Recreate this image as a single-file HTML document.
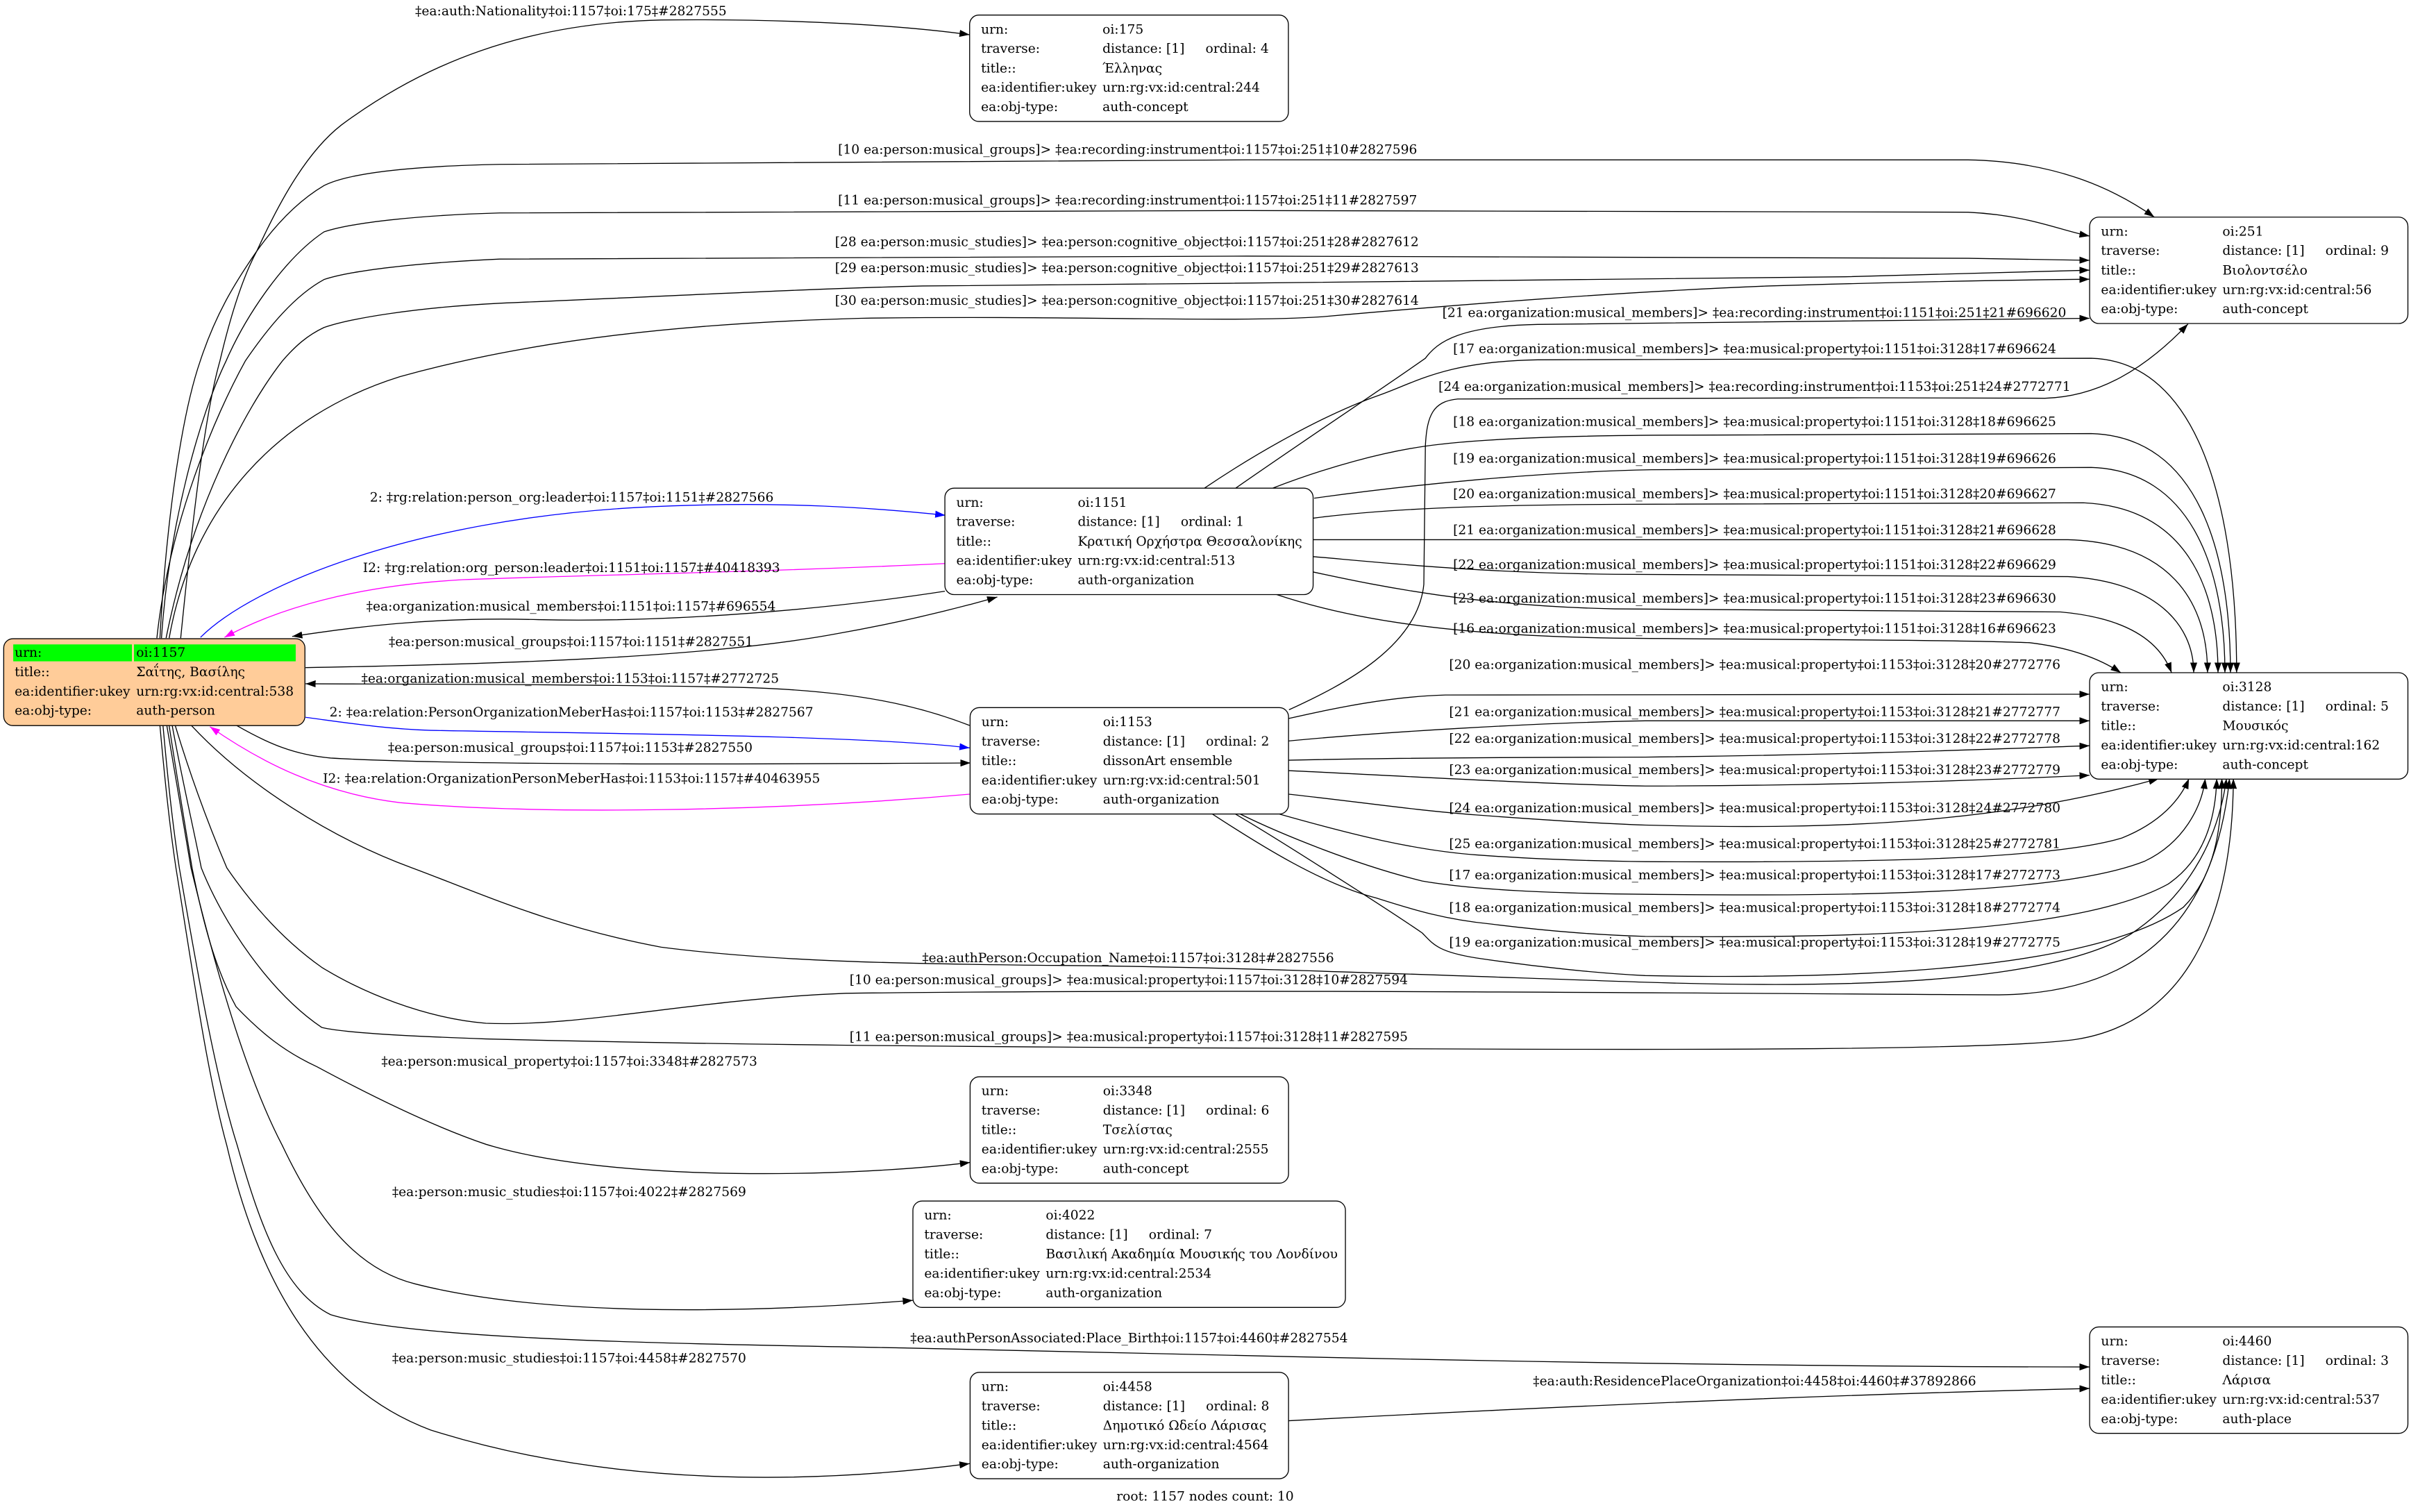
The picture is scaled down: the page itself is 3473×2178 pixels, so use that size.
<!DOCTYPE html>
<html><head><meta charset="utf-8">
<style>html,body{margin:0;padding:0;background:#fff;overflow:hidden}svg{display:block}</style>
</head><body>
<svg xmlns="http://www.w3.org/2000/svg" width="3473" height="2178" viewBox="0 0 1568 983.35" font-family="'DejaVu Serif', serif" font-size="8.43">
<defs>
<marker id="ak" viewBox="0 0 6.6 4.6" refX="6.6" refY="2.3" markerWidth="6.6" markerHeight="4.6" markerUnits="userSpaceOnUse" orient="auto"><path d="M0,0L6.6,2.3L0,4.6z" fill="#000"/></marker>
<marker id="ab" viewBox="0 0 6.6 4.6" refX="6.6" refY="2.3" markerWidth="6.6" markerHeight="4.6" markerUnits="userSpaceOnUse" orient="auto"><path d="M0,0L6.6,2.3L0,4.6z" fill="#0000ff"/></marker>
<marker id="am" viewBox="0 0 6.6 4.6" refX="6.6" refY="2.3" markerWidth="6.6" markerHeight="4.6" markerUnits="userSpaceOnUse" orient="auto"><path d="M0,0L6.6,2.3L0,4.6z" fill="#ff00ff"/></marker>
</defs>
<rect width="1568" height="983.35" fill="#fff"/>

<g fill="none" stroke="#000" stroke-width="0.6" marker-end="url(#ak)">
<!-- to 175 -->
<path d="M117.5,415 C125,340 133,270 143,234.8 C150,205 158,180 167,163.3 C180,135 198,100 222,81.3 C275,42 340,15 430,13 C520,12 590,17 630.6,22.6"/>
<!-- to 251 from 1157 -->
<path d="M104,415 C108,340 118,270 130.2,234.8 C140,205 152,185 167,163.3 C180,145 195,130 210.7,120.7 C228,112 270,108 325,106.9 C600,104 1000,103 1280,104 C1340,105 1378,125 1401.1,141.2"/>
<path d="M105,415 C110,340 130,270 147,234.8 C160,205 185,168 210.7,150.8 C228,145 270,140 325,138.5 C600,137 1000,136 1280,138 C1320,140 1340,150 1359,153.5"/>
<path d="M102,415 C110,340 140,270 159.5,234.8 C175,212 192,192 210.7,181.8 C228,176 270,171 325,168.5 C600,166 1000,166 1280,168 C1320,168.5 1340,169 1359,169.3"/>
<path d="M108,415 C125,330 160,265 183.6,234.8 C192,225 200,218 210.7,213 C228,207 270,200 325,197.2 C450,192 520,188 600,186 C800,184 1000,183 1200,180 C1280,178 1330,176 1359,175.7"/>
<path d="M110,415 C125,330 180,270 260,245 C350,220 450,210 560,207 C700,205 800,210 860,206 C950,198 1050,190 1150,186 C1250,183 1320,182 1359,181.6"/>
<!-- 1151 <-> 1157 -->
<path d="M614.5,384.5 C540,396 440,405 350,403 C280,401 230,408 190,413.9"/>
<path d="M198.7,434.2 C320,432 460,428 545,412 C590,404 625,395 648.6,388.3"/>
<!-- 1153 <-> 1157 -->
<path d="M630.6,471.8 C600,460 560,449 480,447 C380,445 280,445 198.7,444.7"/>
<path d="M153.8,471.8 C175,484 192,491 215,493 C300,498 500,497 631.2,496.2"/>
<!-- 1157 -> 3128 -->
<path d="M124.4,471.8 C160,510 215,545 267.9,564.4 C310,580 360,603 430,616 C500,625 580,627 700,628 C800,629 900,633 1070,638.8 C1200,643 1330,640 1385,608 C1420,585 1442,550 1448,506.4"/>
<path d="M114,472 C124,505 135,535 147.5,564.4 C165,590 185,612 209.2,629.1 C235,645 275,662 316,665.5 C380,668 450,650 550,646 C800,643 1100,646 1300,647 C1390,646 1440,600 1450,506.4"/>
<path d="M112,472 C118,505 125,535 130.9,564.4 C145,600 175,645 209.2,668.2 C225,672 270,674 316,675.7 C450,679 600,681 900,682 C1100,683 1300,683 1350,676 C1420,665 1452,600 1452.5,506.4"/>
<!-- 1157 -> 3348, 4022, 4460, 4458 -->
<path d="M110,472 C115,505 120,535 124.9,564.4 C132,600 140,630 153.5,654.7 C170,672 185,684 206.2,693.8 C240,712 280,732 316,744.2 C400,770 560,765 630.9,756"/>
<path d="M108.5,472 C114,505 119,535 124.2,564.4 C140,630 160,700 183.6,745 C205,790 230,825 270,835 C360,858 500,853 593.7,845.7"/>
<path d="M106,472 C109,505 112,535 116.6,564.4 C128,630 140,700 154.3,745 C170,800 185,840 215,855 C270,872 450,874 590,876.7 C700,879 800,881 822,881.9 C1000,886 1200,889 1359,889"/>
<path d="M104,472 C107,505 110,535 114.4,564.4 C125,630 135,700 147.5,745 C165,820 200,900 280,930 C400,968 530,965 630.6,951.9"/>
<!-- 4458 -> 4460 -->
<path d="M838,924 C950,918 1150,908 1359,903"/>
<!-- 1153 -> 251 -->
<path d="M838.3,461.6 C875,445 922,420 926,380 L927,290 C928,270 932,261 948,259.5 C1050,258.5 1200,258.5 1330,259 C1365,258 1395,240 1423,210.7"/>
<!-- 1151 -> 251 -->
<path d="M803.6,317.5 C840,292 900,252 927,233 C935,222 950,212 1000,211 C1150,209 1280,208 1359,207"/>
<!-- 1151 -> 3128 -->
<path d="M783.3,317.5 C815,296 860,270 897,257 C920,249 940,235 1000,234 C1150,233 1300,233 1360,233 C1430,235 1454.6,330 1454.6,437.5"/>
<path d="M827.6,317.5 C860,305 900,293 936,289 C980,284 1050,283 1100,283 C1200,283 1300,282 1360,282 C1430,284 1450.6,360 1450.6,437.5"/>
<path d="M854.7,324 C920,315 1000,307 1074,305.5 C1200,304 1300,304 1360,304 C1425,306 1447,370 1447,437.5"/>
<path d="M854,337 C900,331 960,328.5 1050,328 C1200,327 1300,327 1355,327 C1420,330 1442.5,380 1442.5,437.5"/>
<path d="M854,351 C950,351 1200,351 1345,351 C1410,353 1435.7,390 1435.7,437.5"/>
<path d="M854,362 C900,366 960,372.5 1050,373.5 C1200,374.5 1300,374.5 1345,375 C1400,378 1426.7,405 1426.7,437.5"/>
<path d="M854,372 C900,382 960,394 1050,396 C1200,397 1290,397 1340,398 C1385,402 1405,418 1412.3,437.5"/>
<path d="M830,386.6 C870,400 930,413 1050,415 C1150,416 1270,416 1320,418 C1345,421 1365,428 1379.3,437.5"/>
<!-- 1153 -> 3128 -->
<path d="M838,467.3 C870,460 905,453 940,452 C1100,451.5 1250,451.5 1359,451.5"/>
<path d="M838,481.9 C900,476 1000,470 1070,468.8 C1200,468 1300,468.5 1359,468.8"/>
<path d="M838,494.4 C900,493 1000,492.5 1070,492.4 C1200,491 1300,487 1359,485"/>
<path d="M838,501.2 C900,504 1000,510 1070,511.2 C1200,511 1300,507 1359,504.2"/>
<path d="M838,516.5 C880,521 920,527 960,530 C1000,533 1040,535.5 1070,536.6 C1200,540 1300,535 1404,506.4"/>
<path d="M832.2,529.5 C880,543 920,553 960,556 C1000,559 1040,560 1070,560.4 C1200,561 1330,560 1380,545 C1405,535 1418,520 1423.6,506.4"/>
<path d="M806.7,529.5 C830,541 880,562 925,573 C960,579 1010,581 1070,581.6 C1200,583 1340,582 1395,560 C1420,548 1432,525 1434.2,506.4"/>
<path d="M788.6,529.5 C820,550 860,575 895,584 C920,592 940,598 970,601 C1010,606 1040,608 1070,609 C1200,610 1350,608 1410,575 C1435,558 1441,530 1441.7,506.4"/>
<path d="M803.6,529.5 C835,548 905,593 925,606.8 C932,614 935,619 960,623 C1000,629 1040,633 1070,634.5 C1200,637 1360,632 1420,590 C1440,570 1445,540 1445,506.4"/>
</g>
<g fill="none" stroke="#0000ff" stroke-width="0.6" marker-end="url(#ab)">
<path d="M130.4,414.5 C165,380 270,338 415,330 C510,325 575,331 614.8,335.1"/>
<path d="M198.7,466.5 C225,470 250,474 280,475 C380,477 560,478 630.6,486.4"/>
</g>
<g fill="none" stroke="#ff00ff" stroke-width="0.6" marker-end="url(#am)">
<path d="M614.5,366.5 C500,372 380,374 301,377 C230,381 180,396 146,414.5"/>
<path d="M630.6,516.5 C500,528 350,530 260,522 C210,516 170,496 136.5,472.6"/>
</g>

<!-- edge labels -->
<g fill="#000">
<text x="270" y="10">‡ea:auth:Nationality‡oi:1157‡oi:175‡#2827555</text>
<text x="545" y="100">[10 ea:person:musical_groups]&gt; ‡ea:recording:instrument‡oi:1157‡oi:251‡10#2827596</text>
<text x="545" y="133">[11 ea:person:musical_groups]&gt; ‡ea:recording:instrument‡oi:1157‡oi:251‡11#2827597</text>
<text x="543" y="160">[28 ea:person:music_studies]&gt; ‡ea:person:cognitive_object‡oi:1157‡oi:251‡28#2827612</text>
<text x="543" y="177">[29 ea:person:music_studies]&gt; ‡ea:person:cognitive_object‡oi:1157‡oi:251‡29#2827613</text>
<text x="543" y="198.3">[30 ea:person:music_studies]&gt; ‡ea:person:cognitive_object‡oi:1157‡oi:251‡30#2827614</text>
<text x="938" y="206">[21 ea:organization:musical_members]&gt; ‡ea:recording:instrument‡oi:1151‡oi:251‡21#696620</text>
<text x="945" y="229.5">[17 ea:organization:musical_members]&gt; ‡ea:musical:property‡oi:1151‡oi:3128‡17#696624</text>
<text x="935.5" y="254.3">[24 ea:organization:musical_members]&gt; ‡ea:recording:instrument‡oi:1153‡oi:251‡24#2772771</text>
<text x="945" y="277">[18 ea:organization:musical_members]&gt; ‡ea:musical:property‡oi:1151‡oi:3128‡18#696625</text>
<text x="945" y="301">[19 ea:organization:musical_members]&gt; ‡ea:musical:property‡oi:1151‡oi:3128‡19#696626</text>
<text x="945" y="324">[20 ea:organization:musical_members]&gt; ‡ea:musical:property‡oi:1151‡oi:3128‡20#696627</text>
<text x="945" y="347.5">[21 ea:organization:musical_members]&gt; ‡ea:musical:property‡oi:1151‡oi:3128‡21#696628</text>
<text x="945" y="370">[22 ea:organization:musical_members]&gt; ‡ea:musical:property‡oi:1151‡oi:3128‡22#696629</text>
<text x="945" y="392">[23 ea:organization:musical_members]&gt; ‡ea:musical:property‡oi:1151‡oi:3128‡23#696630</text>
<text x="945" y="411.5">[16 ea:organization:musical_members]&gt; ‡ea:musical:property‡oi:1151‡oi:3128‡16#696623</text>
<text x="942.4" y="435">[20 ea:organization:musical_members]&gt; ‡ea:musical:property‡oi:1153‡oi:3128‡20#2772776</text>
<text x="942.4" y="465.8">[21 ea:organization:musical_members]&gt; ‡ea:musical:property‡oi:1153‡oi:3128‡21#2772777</text>
<text x="942.4" y="483">[22 ea:organization:musical_members]&gt; ‡ea:musical:property‡oi:1153‡oi:3128‡22#2772778</text>
<text x="942.4" y="503.4">[23 ea:organization:musical_members]&gt; ‡ea:musical:property‡oi:1153‡oi:3128‡23#2772779</text>
<text x="942.4" y="528.2">[24 ea:organization:musical_members]&gt; ‡ea:musical:property‡oi:1153‡oi:3128‡24#2772780</text>
<text x="942.4" y="551.6">[25 ea:organization:musical_members]&gt; ‡ea:musical:property‡oi:1153‡oi:3128‡25#2772781</text>
<text x="942.4" y="571.9">[17 ea:organization:musical_members]&gt; ‡ea:musical:property‡oi:1153‡oi:3128‡17#2772773</text>
<text x="942.4" y="593">[18 ea:organization:musical_members]&gt; ‡ea:musical:property‡oi:1153‡oi:3128‡18#2772774</text>
<text x="942.4" y="615.5">[19 ea:organization:musical_members]&gt; ‡ea:musical:property‡oi:1153‡oi:3128‡19#2772775</text>

<text x="240.5" y="326.3">2: ‡rg:relation:person_org:leader‡oi:1157‡oi:1151‡#2827566</text>
<text x="236" y="372">I2: ‡rg:relation:org_person:leader‡oi:1151‡oi:1157‡#40418393</text>
<text x="238.2" y="397">‡ea:organization:musical_members‡oi:1151‡oi:1157‡#696554</text>
<text x="252.8" y="420.2">‡ea:person:musical_groups‡oi:1157‡oi:1151‡#2827551</text>
<text x="235" y="444">‡ea:organization:musical_members‡oi:1153‡oi:1157‡#2772725</text>
<text x="214.3" y="466">2: ‡ea:relation:PersonOrganizationMeberHas‡oi:1157‡oi:1153‡#2827567</text>
<text x="252.3" y="489">‡ea:person:musical_groups‡oi:1157‡oi:1153‡#2827550</text>
<text x="210" y="509">I2: ‡ea:relation:OrganizationPersonMeberHas‡oi:1153‡oi:1157‡#40463955</text>
<text x="867.6" y="625.8" text-anchor="end">‡ea:authPerson:Occupation_Name‡oi:1157‡oi:3128‡#2827556</text>
<text x="915.6" y="640" text-anchor="end">[10 ea:person:musical_groups]&gt; ‡ea:musical:property‡oi:1157‡oi:3128‡10#2827594</text>
<text x="915.6" y="677" text-anchor="end">[11 ea:person:musical_groups]&gt; ‡ea:musical:property‡oi:1157‡oi:3128‡11#2827595</text>
<text x="248" y="693">‡ea:person:musical_property‡oi:1157‡oi:3348‡#2827573</text>
<text x="255" y="778">‡ea:person:music_studies‡oi:1157‡oi:4022‡#2827569</text>
<text x="592" y="872.9">‡ea:authPersonAssociated:Place_Birth‡oi:1157‡oi:4460‡#2827554</text>
<text x="255" y="886">‡ea:person:music_studies‡oi:1157‡oi:4458‡#2827570</text>
<text x="997" y="901">‡ea:auth:ResidencePlaceOrganization‡oi:4458‡oi:4460‡#37892866</text>
<text x="726.1" y="976">root: 1157 nodes count: 10</text>
</g>

<!-- root node -->
<g transform="translate(2.4,415.4)">
<rect width="195.9" height="56.5" rx="6" fill="#ffcc99" stroke="#000" stroke-width="0.6"/>
<rect x="6.2" y="3.7" width="77.2" height="11" fill="#00ff00"/>
<rect x="84.7" y="3.7" width="105.2" height="11" fill="#00ff00"/>
<text x="7.1" y="11.7">urn:</text><text x="86.2" y="11.7">oi:1157</text>
<text x="7.1" y="24.4">title::</text><text x="86.2" y="24.4">Σαΐτης, Βασίλης</text>
<text x="7.1" y="37">ea:identifier:ukey</text><text x="86.2" y="37">urn:rg:vx:id:central:538</text>
<text x="7.1" y="49.5">ea:obj-type:</text><text x="86.2" y="49.5">auth-person</text>
</g>

<!-- standard nodes -->
<g transform="translate(630.6,9.8)">
<rect width="207.3" height="69.2" rx="6" fill="#fff" stroke="#000" stroke-width="0.6"/>
<text x="7.4" y="12">urn:</text><text x="86.4" y="12">oi:175</text>
<text x="7.4" y="24.6">traverse:</text><text x="86.4" y="24.6">distance: [1]</text><text x="153.4" y="24.6">ordinal: 4</text>
<text x="7.4" y="37.3">title::</text><text x="86.4" y="37.3">Έλληνας</text>
<text x="7.4" y="49.9">ea:identifier:ukey</text><text x="86.4" y="49.9">urn:rg:vx:id:central:244</text>
<text x="7.4" y="62.5">ea:obj-type:</text><text x="86.4" y="62.5">auth-concept</text>
</g>

<g transform="translate(1359,141.2)">
<rect width="207" height="69.2" rx="6" fill="#fff" stroke="#000" stroke-width="0.6"/>
<text x="7.4" y="12">urn:</text><text x="86.4" y="12">oi:251</text>
<text x="7.4" y="24.6">traverse:</text><text x="86.4" y="24.6">distance: [1]</text><text x="153.4" y="24.6">ordinal: 9</text>
<text x="7.4" y="37.3">title::</text><text x="86.4" y="37.3">Βιολοντσέλο</text>
<text x="7.4" y="49.9">ea:identifier:ukey</text><text x="86.4" y="49.9">urn:rg:vx:id:central:56</text>
<text x="7.4" y="62.5">ea:obj-type:</text><text x="86.4" y="62.5">auth-concept</text>
</g>

<g transform="translate(614.5,317.5)">
<rect width="239.5" height="69.2" rx="6" fill="#fff" stroke="#000" stroke-width="0.6"/>
<text x="7.4" y="12">urn:</text><text x="86.4" y="12">oi:1151</text>
<text x="7.4" y="24.6">traverse:</text><text x="86.4" y="24.6">distance: [1]</text><text x="153.4" y="24.6">ordinal: 1</text>
<text x="7.4" y="37.3">title::</text><text x="86.4" y="37.3">Κρατική Ορχήστρα Θεσσαλονίκης</text>
<text x="7.4" y="49.9">ea:identifier:ukey</text><text x="86.4" y="49.9">urn:rg:vx:id:central:513</text>
<text x="7.4" y="62.5">ea:obj-type:</text><text x="86.4" y="62.5">auth-organization</text>
</g>

<g transform="translate(630.9,460.2)">
<rect width="207.1" height="69.2" rx="6" fill="#fff" stroke="#000" stroke-width="0.6"/>
<text x="7.4" y="12">urn:</text><text x="86.4" y="12">oi:1153</text>
<text x="7.4" y="24.6">traverse:</text><text x="86.4" y="24.6">distance: [1]</text><text x="153.4" y="24.6">ordinal: 2</text>
<text x="7.4" y="37.3">title::</text><text x="86.4" y="37.3">dissonArt ensemble</text>
<text x="7.4" y="49.9">ea:identifier:ukey</text><text x="86.4" y="49.9">urn:rg:vx:id:central:501</text>
<text x="7.4" y="62.5">ea:obj-type:</text><text x="86.4" y="62.5">auth-organization</text>
</g>

<g transform="translate(1359,437.5)">
<rect width="207" height="69.2" rx="6" fill="#fff" stroke="#000" stroke-width="0.6"/>
<text x="7.4" y="12">urn:</text><text x="86.4" y="12">oi:3128</text>
<text x="7.4" y="24.6">traverse:</text><text x="86.4" y="24.6">distance: [1]</text><text x="153.4" y="24.6">ordinal: 5</text>
<text x="7.4" y="37.3">title::</text><text x="86.4" y="37.3">Μουσικός</text>
<text x="7.4" y="49.9">ea:identifier:ukey</text><text x="86.4" y="49.9">urn:rg:vx:id:central:162</text>
<text x="7.4" y="62.5">ea:obj-type:</text><text x="86.4" y="62.5">auth-concept</text>
</g>

<g transform="translate(630.9,700.3)">
<rect width="207.1" height="69.2" rx="6" fill="#fff" stroke="#000" stroke-width="0.6"/>
<text x="7.4" y="12">urn:</text><text x="86.4" y="12">oi:3348</text>
<text x="7.4" y="24.6">traverse:</text><text x="86.4" y="24.6">distance: [1]</text><text x="153.4" y="24.6">ordinal: 6</text>
<text x="7.4" y="37.3">title::</text><text x="86.4" y="37.3">Τσελίστας</text>
<text x="7.4" y="49.9">ea:identifier:ukey</text><text x="86.4" y="49.9">urn:rg:vx:id:central:2555</text>
<text x="7.4" y="62.5">ea:obj-type:</text><text x="86.4" y="62.5">auth-concept</text>
</g>

<g transform="translate(593.7,781.1)">
<rect width="281.3" height="69.2" rx="6" fill="#fff" stroke="#000" stroke-width="0.6"/>
<text x="7.4" y="12">urn:</text><text x="86.4" y="12">oi:4022</text>
<text x="7.4" y="24.6">traverse:</text><text x="86.4" y="24.6">distance: [1]</text><text x="153.4" y="24.6">ordinal: 7</text>
<text x="7.4" y="37.3">title::</text><text x="86.4" y="37.3">Βασιλική Ακαδημία Μουσικής του Λονδίνου</text>
<text x="7.4" y="49.9">ea:identifier:ukey</text><text x="86.4" y="49.9">urn:rg:vx:id:central:2534</text>
<text x="7.4" y="62.5">ea:obj-type:</text><text x="86.4" y="62.5">auth-organization</text>
</g>

<g transform="translate(630.9,892.5)">
<rect width="207.1" height="69.2" rx="6" fill="#fff" stroke="#000" stroke-width="0.6"/>
<text x="7.4" y="12">urn:</text><text x="86.4" y="12">oi:4458</text>
<text x="7.4" y="24.6">traverse:</text><text x="86.4" y="24.6">distance: [1]</text><text x="153.4" y="24.6">ordinal: 8</text>
<text x="7.4" y="37.3">title::</text><text x="86.4" y="37.3">Δημοτικό Ωδείο Λάρισας</text>
<text x="7.4" y="49.9">ea:identifier:ukey</text><text x="86.4" y="49.9">urn:rg:vx:id:central:4564</text>
<text x="7.4" y="62.5">ea:obj-type:</text><text x="86.4" y="62.5">auth-organization</text>
</g>

<g transform="translate(1359,863)">
<rect width="207" height="69.2" rx="6" fill="#fff" stroke="#000" stroke-width="0.6"/>
<text x="7.4" y="12">urn:</text><text x="86.4" y="12">oi:4460</text>
<text x="7.4" y="24.6">traverse:</text><text x="86.4" y="24.6">distance: [1]</text><text x="153.4" y="24.6">ordinal: 3</text>
<text x="7.4" y="37.3">title::</text><text x="86.4" y="37.3">Λάρισα</text>
<text x="7.4" y="49.9">ea:identifier:ukey</text><text x="86.4" y="49.9">urn:rg:vx:id:central:537</text>
<text x="7.4" y="62.5">ea:obj-type:</text><text x="86.4" y="62.5">auth-place</text>
</g>
</svg>
</body></html>
